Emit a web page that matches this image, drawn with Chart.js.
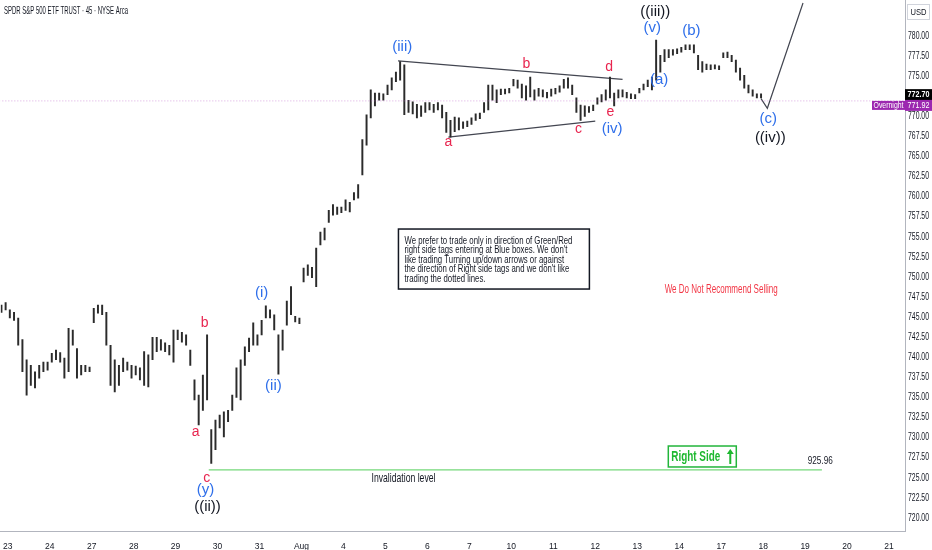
<!DOCTYPE html>
<html>
<head>
<meta charset="utf-8">
<script src="https://cdn.jsdelivr.net/npm/chart.js@4.4.0/dist/chart.umd.min.js"></script>
<style>
  html, body { margin: 0; padding: 0; background: #fff; }
  #wrap { width: 932px; height: 550px; }
</style>
</head>
<body>
<div id="wrap"><canvas id="chart"></canvas></div>
<script>
// Day labels on the time axis (one per trading session)
const dayLabels = ['23', '24', '27', '28', '29', '30', '31', 'Aug', '4', '5', '6', '7',
  '10', '11', '12', '13', '14', '17', '18', '19', '20', '21'];

// Price axis ticks
const priceTicks = [720, 722.5, 725, 727.5, 730, 732.5, 735, 737.5, 740, 742.5, 745, 747.5,
  750, 752.5, 755, 757.5, 760, 762.5, 765, 767.5, 770, 772.5, 775, 777.5, 780];

// 45 min bars (first bar at session -0.15, step 0.1 session)
const firstBarTime = -0.15;
const barStep = 0.1;
const barHigh = [
  746.5, 746.8, 745.9, 745.6, 744.9, 742.2, 739.7, 739.0, 738.2, 739.0, 739.4, 739.4,
  740.5, 740.9, 740.6, 739.9, 743.6, 743.4, 741.1, 739.0, 739.0, 738.8,
  746.1, 746.5, 746.5, 745.6, 741.5, 739.7, 739.0, 739.9, 739.4, 739.0,
  738.9, 738.7, 740.7, 740.3, 742.5, 742.5, 742.2, 741.8, 741.5, 743.4,
  743.4, 743.1, 742.8, 740.9, 737.2, 735.3, 737.8, 742.8, 731.0, 732.2,
  732.8, 733.2, 733.4, 735.3, 738.7, 739.7, 741.3, 742.4, 744.3, 742.8,
  744.6, 746.4, 745.9, 745.3, 742.8, 743.4, 747.0, 748.8, 745.1, 744.9,
  751.1, 751.5, 751.2, 753.6, 755.6, 756.1, 758.3, 759.0, 758.7, 758.7,
  759.6, 759.3, 760.5, 761.5, 767.1, 770.2, 773.3, 772.9, 772.9, 772.8,
  773.9, 774.8, 775.5, 776.8, 776.4, 772.0, 771.8, 771.5, 771.3, 771.7,
  771.7, 771.5, 771.7, 771.4, 770.5, 769.5, 769.9, 769.8, 769.3, 769.4,
  769.8, 770.3, 770.4, 771.7, 773.9, 773.9, 773.3, 773.4, 773.4, 773.5,
  774.6, 774.5, 774.0, 773.8, 774.9, 773.3, 773.5, 773.3, 773.0, 773.4,
  773.5, 773.8, 774.6, 774.8, 773.9, 772.3, 771.4, 771.3, 771.2, 771.4,
  772.3, 772.7, 773.3, 774.9, 772.9, 773.3, 773.3, 773.0, 772.8, 772.7,
  773.5, 774.0, 774.5, 774.9, 779.5, 777.6, 778.3, 778.3, 778.3, 778.4,
  778.6, 778.9, 778.9, 778.9, 777.6, 776.8, 776.5, 776.4, 776.4, 776.3,
  777.9, 778.0, 777.6, 777.0, 776.0, 775.1, 773.9, 773.3, 772.8, 772.8
];
const barLow = [
  745.6, 745.9, 744.9, 744.6, 741.5, 738.2, 735.3, 736.5, 736.2, 737.4, 738.2, 738.4,
  739.4, 739.7, 739.4, 737.4, 738.2, 741.5, 737.4, 737.8, 738.2, 738.2,
  744.3, 745.5, 745.3, 741.5, 736.5, 735.7, 736.5, 738.2, 738.4, 737.4,
  737.8, 737.2, 736.5, 736.3, 739.7, 740.7, 740.9, 740.7, 740.3, 739.4,
  742.2, 741.9, 741.5, 739.0, 734.7, 731.6, 733.4, 734.7, 726.8, 728.5,
  731.2, 730.1, 732.0, 733.4, 735.0, 734.7, 739.0, 740.7, 741.5, 741.5,
  742.8, 744.9, 744.9, 743.4, 737.9, 740.9, 744.0, 745.3, 744.4, 744.2,
  749.4, 750.2, 749.9, 748.8, 754.0, 754.6, 756.8, 757.7, 757.8, 758.0,
  758.3, 758.1, 759.6, 759.8, 762.7, 766.4, 769.8, 771.3, 772.0, 772.0,
  772.7, 773.3, 774.3, 774.5, 770.2, 770.5, 770.3, 769.8, 770.0, 770.5,
  770.8, 770.5, 770.8, 769.8, 768.0, 767.4, 768.1, 768.3, 768.5, 768.7,
  769.0, 769.5, 769.7, 770.5, 770.8, 772.0, 771.7, 772.7, 772.8, 772.9,
  773.8, 773.5, 772.3, 772.0, 772.4, 772.0, 772.5, 772.4, 772.3, 772.5,
  772.8, 773.0, 773.5, 773.5, 772.7, 770.5, 769.5, 770.0, 770.5, 770.7,
  771.5, 771.8, 772.0, 772.3, 771.3, 772.3, 772.4, 772.3, 772.2, 772.2,
  772.9, 773.3, 773.7, 773.3, 774.5, 775.5, 776.8, 777.3, 777.6, 777.8,
  778.0, 778.3, 778.3, 777.9, 775.8, 775.5, 775.8, 775.8, 775.9, 775.8,
  777.3, 777.3, 776.8, 775.5, 774.5, 773.5, 772.9, 772.5, 772.3, 772.3
];

const lastPrice = 772.70;
const overnightPrice = 771.92;
const invalidationLevel = 726.0;

// drawn lines (session, price)
const triangleUpper = [{ x: 9.3, y: 776.9 }, { x: 14.65, y: 774.6 }];
const triangleLower = [{ x: 10.5, y: 767.4 }, { x: 14.0, y: 769.4 }];
const projection = [{ x: 17.95, y: 772.2 }, { x: 18.1, y: 771.0 }, { x: 18.95, y: 784.1 }];
const invalidationLine = [{ x: 4.79, y: invalidationLevel }, { x: 19.4, y: invalidationLevel }];

const BLUE = '#2f6fea';
const RED = '#e8254f';
const BLACK = '#131722';

// wave labels (text, session, price, colour, size)
const waveLabels = [
  ['(iii)', 9.4, 778.6, BLUE, 15],
  ['b', 12.36, 776.5, RED, 14],
  ['d', 14.33, 776.1, RED, 14],
  ['a', 10.5, 766.8, RED, 14],
  ['c', 13.6, 768.4, RED, 14],
  ['e', 14.36, 770.5, RED, 14],
  ['(iv)', 14.4, 768.5, BLUE, 15],
  ['((iii))', 15.43, 783.0, BLACK, 15],
  ['(v)', 15.36, 781.0, BLUE, 15],
  ['(b)', 16.29, 780.6, BLUE, 15],
  ['(a)', 15.52, 774.5, BLUE, 15],
  ['(c)', 18.12, 769.7, BLUE, 15],
  ['((iv))', 18.17, 767.3, BLACK, 15],
  ['(i)', 6.05, 748.0, BLUE, 15],
  ['(ii)', 6.33, 736.5, BLUE, 15],
  ['b', 4.69, 744.3, RED, 14],
  ['a', 4.48, 730.7, RED, 14],
  ['c', 4.74, 725.0, RED, 14],
  ['(y)', 4.71, 723.5, BLUE, 15],
  ['((ii))', 4.76, 721.4, BLACK, 15]
];

const noteLines = [
  'We prefer to trade only in direction of Green/Red',
  'right side tags entering at Blue boxes. We don\'t',
  'like trading Turning up/down arrows or against',
  'the direction of Right side tags and we don\'t like',
  'trading the dotted lines.'
];

const chartTitle = 'SPDR S&P 500 ETF TRUST · 45 · NYSE Arca';

const FONT = '"Liberation Sans", Arial, sans-serif';

// draw text squeezed horizontally by factor sx
function squeezed(ctx, text, x, y, sx, align) {
  ctx.save();
  ctx.translate(x, y);
  ctx.scale(sx, 1);
  ctx.textAlign = align || 'left';
  ctx.fillText(text, 0, 0);
  ctx.restore();
}

const annotations = {
  id: 'annotations',
  afterDatasetsDraw(chart) {
    const { ctx } = chart;
    const xs = chart.scales.x, ys = chart.scales.y;
    const px = (v) => xs.getPixelForValue(v);
    const py = (v) => ys.getPixelForValue(v);
    ctx.save();
    ctx.textBaseline = 'middle';

    // title
    ctx.fillStyle = '#131722';
    ctx.font = '11px ' + FONT;
    ctx.textAlign = 'left';
    ctx.fillText(chartTitle, 4, 11, 124);

    ctx.textAlign = 'center';
    waveLabels.forEach(([t, x, y, c, s]) => {
      ctx.fillStyle = c;
      ctx.font = s + 'px ' + FONT;
      ctx.fillText(t, px(x), py(y));
    });

    // note box
    const bx = px(9.31), by = py(755.97), bw = px(13.86) - bx, bh = py(748.5) - by;
    ctx.fillStyle = '#fff';
    ctx.fillRect(bx, by, bw, bh);
    ctx.strokeStyle = '#131722';
    ctx.lineWidth = 1.5;
    ctx.strokeRect(bx, by, bw, bh);
    ctx.fillStyle = '#131722';
    ctx.font = '10.5px ' + FONT;
    const sx = 168 / ctx.measureText(noteLines[0]).width;
    noteLines.forEach((l, i) => squeezed(ctx, l, bx + 6, by + 12 + i * 9.5, sx));

    ctx.fillStyle = '#f23645';
    ctx.font = '12px ' + FONT;
    ctx.textAlign = 'center';
    ctx.fillText('We Do Not Recommend Selling', px(17.0), py(748.4), 113);

    ctx.fillStyle = '#131722';
    ctx.font = '12px ' + FONT;
    ctx.fillText('Invalidation level', px(9.43), py(724.85), 64);
    ctx.font = '11px ' + FONT;
    ctx.fillText('925.96', px(19.36), py(727.1), 25);

    // Right Side box
    const rx = px(15.74), ry = py(728.96), rw = px(17.36) - rx, rh = py(726.35) - ry;
    ctx.fillStyle = '#fff';
    ctx.fillRect(rx, ry, rw, rh);
    ctx.strokeStyle = '#22b53a';
    ctx.lineWidth = 1.5;
    ctx.strokeRect(rx, ry, rw, rh);
    ctx.fillStyle = '#1db82f';
    ctx.font = 'bold 14px ' + FONT;
    ctx.textAlign = 'left';
    ctx.fillText('Right Side', rx + 3, ry + rh / 2 + 1, 49);
    const ax = rx + rw - 6;
    ctx.strokeStyle = '#1db82f';
    ctx.lineWidth = 2;
    ctx.beginPath();
    ctx.moveTo(ax, ry + rh - 3);
    ctx.lineTo(ax, ry + 5);
    ctx.stroke();
    ctx.beginPath();
    ctx.moveTo(ax - 3.5, ry + 8);
    ctx.lineTo(ax, ry + 3);
    ctx.lineTo(ax + 3.5, ry + 8);
    ctx.closePath();
    ctx.fill();
    ctx.restore();
  },
  afterDraw(chart) {
    const { ctx, chartArea } = chart;
    const ys = chart.scales.y;
    const x0 = chartArea.right;
    ctx.save();
    ctx.textBaseline = 'middle';

    // price axis labels
    ctx.fillStyle = '#131722';
    ctx.font = '10px ' + FONT;
    ctx.textAlign = 'left';
    priceTicks.forEach((v) => ctx.fillText(v.toFixed(2), x0 + 3, ys.getPixelForValue(v), 21));

    // USD box
    ctx.strokeStyle = '#d1d4dc';
    ctx.lineWidth = 1;
    ctx.strokeRect(x0 + 2.5, 4.5, 22, 15);
    ctx.font = '9px ' + FONT;
    ctx.textAlign = 'center';
    ctx.fillText('USD', x0 + 13.5, 12.5, 16);

    // last price tag
    const yl = ys.getPixelForValue(lastPrice);
    ctx.fillStyle = '#000';
    ctx.fillRect(x0, yl - 5.5, 27, 11);
    ctx.fillStyle = '#fff';
    ctx.font = 'bold 9.5px ' + FONT;
    ctx.fillText(lastPrice.toFixed(2), x0 + 13.5, yl, 22);

    // overnight tag
    const yo = ys.getPixelForValue(overnightPrice) + 4.5;
    ctx.fillStyle = '#9c27b0';
    ctx.fillRect(x0, yo - 5.5, 27, 11);
    ctx.fillRect(x0 - 33, yo - 4.5, 33, 9);
    ctx.fillStyle = '#fff';
    ctx.font = '9.5px ' + FONT;
    ctx.fillText(overnightPrice.toFixed(2), x0 + 13.5, yo, 22);
    ctx.font = '8.5px ' + FONT;
    ctx.fillText('Overnight', x0 - 16.5, yo, 30);
    ctx.restore();
  }
};

const lineDs = (data, color, width, dash) => ({
  type: 'line', data, borderColor: color, borderWidth: width, borderDash: dash || [],
  pointRadius: 0, tension: 0, fill: false
});

new Chart(document.getElementById('chart'), {
  type: 'bar',
  data: {
    datasets: [
      lineDs([{ x: -0.2, y: overnightPrice }, { x: 21.4, y: overnightPrice }], 'rgba(190,100,200,0.55)', 1, [1, 2]),
      {
        type: 'bar',
        data: barHigh.map((h, i) => ({ x: firstBarTime + i * barStep, y: [barLow[i], h] })),
        backgroundColor: '#2b2b2b',
        barThickness: 1.3,
        grouped: false
      },
      lineDs(triangleUpper, '#434651', 1.2),
      lineDs(triangleLower, '#434651', 1.2),
      lineDs(projection, '#434651', 1.2),
      lineDs(invalidationLine, '#74d87a', 1.3)
    ]
  },
  options: {
    responsive: true,
    maintainAspectRatio: false,
    animation: false,
    layout: { padding: 0 },
    plugins: { legend: { display: false }, tooltip: { enabled: false } },
    scales: {
      x: {
        type: 'linear',
        min: -0.167,
        max: 21.38,
        offset: false,
        grid: { display: false },
        border: { display: true, color: '#b2b5be' },
        afterBuildTicks: (s) => { s.ticks = dayLabels.map((_, i) => ({ value: i })); },
        afterFit: (s) => { s.height = 19; },
        ticks: {
          autoSkip: false, maxRotation: 0, padding: 3,
          color: '#131722', font: { size: 8.5, family: FONT },
          callback: (v) => dayLabels[v]
        }
      },
      y: {
        position: 'right',
        min: 718.38,
        max: 784.48,
        grid: { display: false },
        border: { display: true, color: '#b2b5be' },
        afterBuildTicks: (s) => { s.ticks = priceTicks.map((v) => ({ value: v })); },
        afterFit: (s) => { s.width = 27; },
        ticks: { display: false }
      }
    }
  },
  plugins: [annotations]
});
</script>
</body>
</html>
